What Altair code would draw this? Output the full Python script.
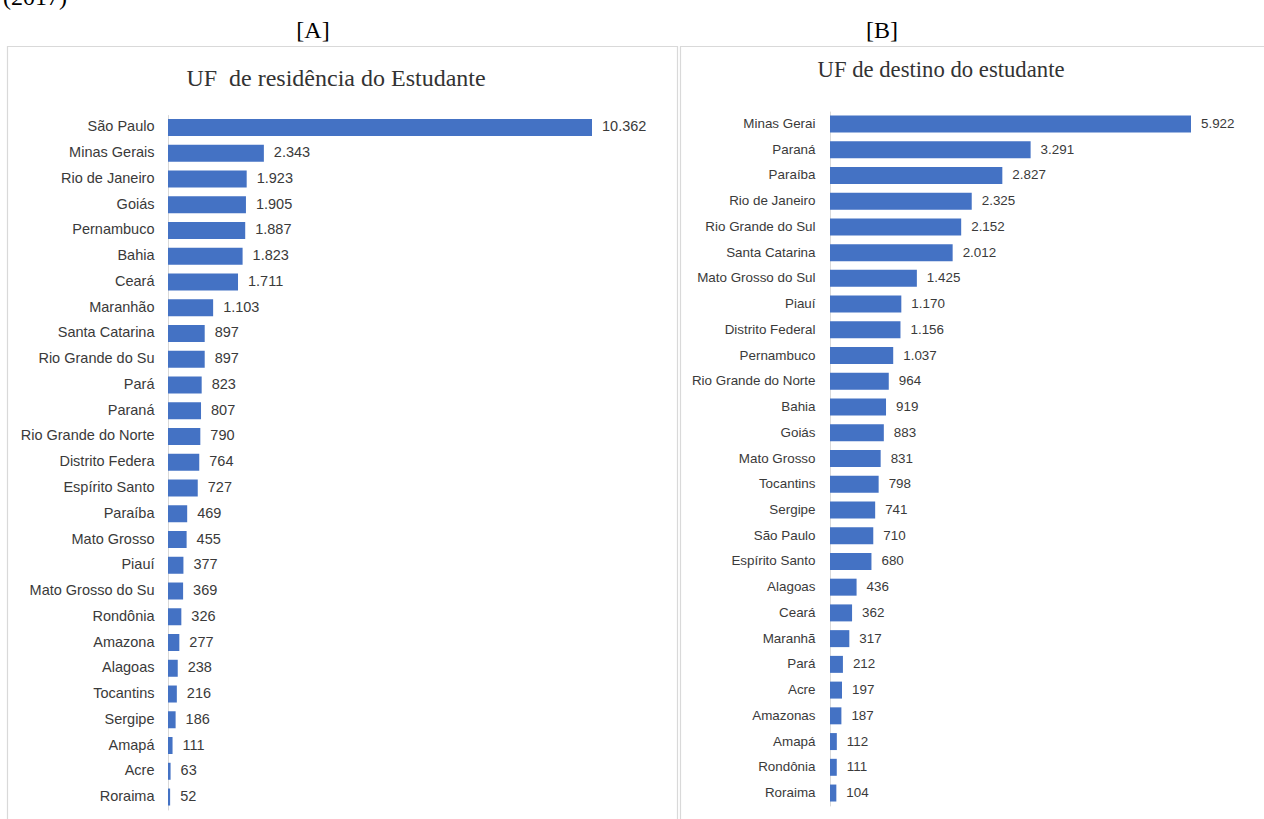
import altair as alt
import pandas as pd

# ---- data -------------------------------------------------------------
res_names = ["São Paulo", "Minas Gerais", "Rio de Janeiro", "Goiás", "Pernambuco",
             "Bahia", "Ceará", "Maranhão", "Santa Catarina", "Rio Grande do Su",
             "Pará", "Paraná", "Rio Grande do Norte", "Distrito Federa",
             "Espírito Santo", "Paraíba", "Mato Grosso", "Piauí",
             "Mato Grosso do Su", "Rondônia", "Amazona", "Alagoas", "Tocantins",
             "Sergipe", "Amapá", "Acre", "Roraima"]
res_values = [10362, 2343, 1923, 1905, 1887, 1823, 1711, 1103, 897, 897,
              823, 807, 790, 764, 727, 469, 455, 377, 369, 326, 277, 238, 216,
              186, 111, 63, 52]

dest_names = ["Minas Gerai", "Paraná", "Paraíba", "Rio de Janeiro",
              "Rio Grande do Sul", "Santa Catarina", "Mato Grosso do Sul",
              "Piauí", "Distrito Federal", "Pernambuco", "Rio Grande do Norte",
              "Bahia", "Goiás", "Mato Grosso", "Tocantins", "Sergipe",
              "São Paulo", "Espírito Santo", "Alagoas", "Ceará", "Maranhã",
              "Pará", "Acre", "Amazonas", "Amapá", "Rondônia", "Roraima"]
dest_values = [5922, 3291, 2827, 2325, 2152, 2012, 1425, 1170, 1156, 1037,
               964, 919, 883, 831, 798, 741, 710, 680, 436, 362, 317, 212, 197,
               187, 112, 111, 104]

title_a = "UF\u00a0\u00a0de residência do Estudante"
title_b = "UF de destino do estudante"
panel_a_tag = "[A]"
panel_b_tag = "[B]"
top_caption = "(2017)"

# ---- styling ----------------------------------------------------------
BAR = "#4472C4"
TXT = "#3a3a3a"
BORDER = "#d9d9d9"
SANS = "Liberation Sans"
SERIF = "Liberation Serif"


def fmt(v):
    return f"{v:,}".replace(",", ".")


df_a = pd.DataFrame({"name": res_names, "v": res_values,
                     "label": [fmt(v) for v in res_values]})
df_b = pd.DataFrame({"name": dest_names, "v": dest_values,
                     "label": [fmt(v) for v in dest_values]})
one = pd.DataFrame({"k": [0]})


def panel(df, x_range, y_range, xmax, label_size, label_pad):
    x = alt.X("v:Q", scale=alt.Scale(domain=[0, xmax], range=x_range), axis=None)
    y = alt.Y("name:N", sort=None, title=None,
              scale=alt.Scale(range=y_range, paddingInner=0.34, paddingOuter=0.17),
              axis=alt.Axis(orient="left", offset=-x_range[0], ticks=False,
                            domainColor=BORDER, domainWidth=1,
                            labelFont=SANS, labelFontSize=label_size,
                            labelColor=TXT, labelPadding=label_pad,
                            labelLimit=300))
    bars = alt.Chart(df).mark_bar(color=BAR).encode(x=x, y=y)
    texts = alt.Chart(df).mark_text(align="left", baseline="middle", dx=10,
                                    font=SANS, fontSize=label_size, color=TXT
                                    ).encode(x=x, y=y, text="label:N")
    return alt.layer(bars, texts)


layer_a = panel(df_a, [168, 592], [114.6, 809.9], 10362, 14.5, 14)
layer_b = panel(df_b, [830, 1191], [111.1, 805.9], 5922, 13.4, 15)

border_a = alt.Chart(one).mark_rect(fillOpacity=0, stroke=BORDER, strokeWidth=1.2).encode(
    x=alt.value(7.5), x2=alt.value(677.5), y=alt.value(46.5), y2=alt.value(840))
border_b = alt.Chart(one).mark_rect(fillOpacity=0, stroke=BORDER, strokeWidth=1.2).encode(
    x=alt.value(680.5), x2=alt.value(1290), y=alt.value(46.5), y2=alt.value(840))

t_a = alt.Chart(one).mark_text(text=title_a, align="center", baseline="middle",
                               font=SERIF, fontSize=24, color="#333333").encode(
    x=alt.value(336), y=alt.value(79))
t_b = alt.Chart(one).mark_text(text=title_b, align="center", baseline="middle",
                               font=SERIF, fontSize=22.7, color="#333333").encode(
    x=alt.value(941), y=alt.value(70))
tag_a = alt.Chart(one).mark_text(text=panel_a_tag, align="center", baseline="middle",
                                 font=SERIF, fontSize=24, color="black").encode(
    x=alt.value(313), y=alt.value(31))
tag_b = alt.Chart(one).mark_text(text=panel_b_tag, align="center", baseline="middle",
                                 font=SERIF, fontSize=24, color="black").encode(
    x=alt.value(882), y=alt.value(31))
cap = alt.Chart(one).mark_text(text=top_caption, align="left", baseline="alphabetic",
                               font=SERIF, fontSize=24, color="black").encode(
    x=alt.value(3), y=alt.value(5))

chart = alt.layer(
    border_a, border_b, t_a, t_b, tag_a, tag_b, cap, layer_a, layer_b
).resolve_scale(x="independent", y="independent").properties(
    width=1264, height=819, padding=0,
    autosize=alt.AutoSizeParams(type="none"),
    background="white",
).configure_view(stroke=None)

chart.save("out.html", embed_options={"renderer": "svg", "actions": False})
